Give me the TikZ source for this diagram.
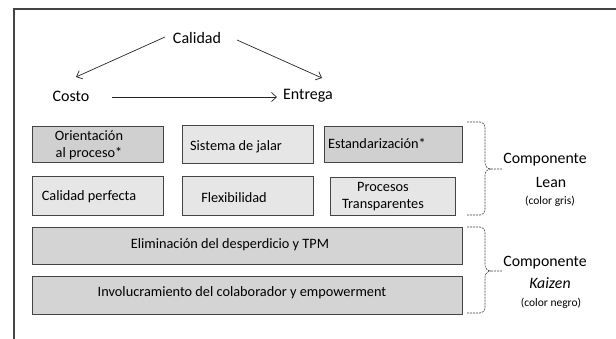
\documentclass[tikz,border=0pt]{standalone}
\usepackage{fontspec}
\setmainfont{Carlito}
\usetikzlibrary{arrows.meta}
\definecolor{darkbox}{HTML}{D0D0D0}
\definecolor{lightbox}{HTML}{E6E6E6}
\definecolor{midbox}{HTML}{D4D4D4}
\definecolor{edge}{HTML}{444444}
\begin{document}
\begin{tikzpicture}[x=1pt,y=-1pt,
  frameline/.style={draw=edge,line width=2pt},
  boxbase/.style={draw=edge,line width=1pt,rectangle,inner sep=0pt},
  darkfill/.style={boxbase,fill=darkbox},
  lightfill/.style={boxbase,fill=lightbox},
  widefill/.style={boxbase,fill=midbox},
  toplabel/.style={font=\fontsize{16}{18}\selectfont,inner sep=1pt},
  boxtext/.style={font=\fontsize{14.3}{17}\selectfont,inner sep=0pt,align=center},
  comptext/.style={font=\fontsize{15.8}{18}\selectfont,inner sep=0pt},
  smalltext/.style={font=\fontsize{11.5}{13}\selectfont,inner sep=0pt},
  arr/.style={-{Straight Barb[length=5pt,width=9pt]},line width=0.7pt,draw=black!85},
  bracestyle/.style={draw=black!75,line width=0.6pt,dash pattern=on 2pt off 1pt}
]
\useasboundingbox (0,0) rectangle (616,339);
% frame
\draw[frameline] (616,9) -- (13.5,9) -- (13.5,339);

% top triangle
\node[toplabel] (cal) at (197,38) {Calidad};
\node[toplabel] (cos) at (71,96) {Costo};
\node[toplabel] (ent) at (308,96) {Entrega};
\coordinate (c1) at (165,37);
\coordinate (c2) at (76,77);
\coordinate (e1) at (237,40);
\coordinate (e2) at (322,78);
\coordinate (h1) at (112,97);
\coordinate (h2) at (277,97);
\draw[arr] (c1) -- (c2);
\draw[arr] (e1) -- (e2);
\draw[arr] (h1) -- (h2);

% lean boxes row 1
\node[darkfill,minimum width=131pt,minimum height=36pt] (b1) at (97.5,145) {};
\node[lightfill,minimum width=131pt,minimum height=38pt] (b2) at (247.5,145) {};
\node[darkfill,minimum width=138pt,minimum height=36pt] (b3) at (393,145) {};
% row 2
\node[lightfill,minimum width=131pt,minimum height=39pt] (b4) at (97.5,196.5) {};
\node[lightfill,minimum width=131pt,minimum height=39pt] (b5) at (247.5,196.5) {};
\node[lightfill,minimum width=125pt,minimum height=38pt] (b6) at (392.5,197) {};
% kaizen boxes
\node[widefill,minimum width=430pt,minimum height=37pt] (k1) at (247,246.5) {};
\node[widefill,minimum width=430pt,minimum height=37pt] (k2) at (247,295.5) {};

% box texts
\node[boxtext] (t1) at (89,145) {Orientación\\al proceso*};
\node[boxtext] (t2) at (236,147) {Sistema de jalar};
\node[boxtext] (t3) at (377,143) {Estandarización*};
\node[boxtext] (t4) at (89,197) {Calidad perfecta};
\node[boxtext] (t5) at (234,198) {Flexibilidad};
\node[boxtext] (t6) at (383,197) {Procesos\\Transparentes};
\node[boxtext] (t7) at (230,245) {Eliminación del desperdicio y TPM};
\node[boxtext] (t8) at (242,293) {Involucramiento del colaborador y empowerment};

% braces
\coordinate (lb1) at (467,122);
\coordinate (lb2) at (467,215);
\coordinate (lt) at (502,169);
\draw[bracestyle] (lb1) -- (480,122) to[out=0,in=90] (485,127) -- (485,163)
  to[out=-90,in=180] (491,169) -- (lt);
\draw[bracestyle] (lb2) -- (480,215) to[out=0,in=-90] (485,210) -- (485,175)
  to[out=90,in=180] (491,169);
\coordinate (kb1) at (467,227);
\coordinate (kb2) at (467,313);
\coordinate (kt) at (502,271);
\draw[bracestyle] (kb1) -- (480,227) to[out=0,in=90] (485,232) -- (485,265)
  to[out=-90,in=180] (491,271) -- (kt);
\draw[bracestyle] (kb2) -- (480,313) to[out=0,in=-90] (485,308) -- (485,277)
  to[out=90,in=180] (491,271);

% component labels
\node[comptext] (cl1) at (545,160) {Componente};
\node[comptext] (cl2) at (551,182) {Lean};
\node[smalltext] (cl3) at (550,201) {(color gris)};
\node[comptext] (ck1) at (545,263) {Componente};
\node[comptext] (ck2) at (550,283) {\itshape Kaizen};
\node[smalltext] (ck3) at (551,303) {(color negro)};
\end{tikzpicture}
\end{document}
